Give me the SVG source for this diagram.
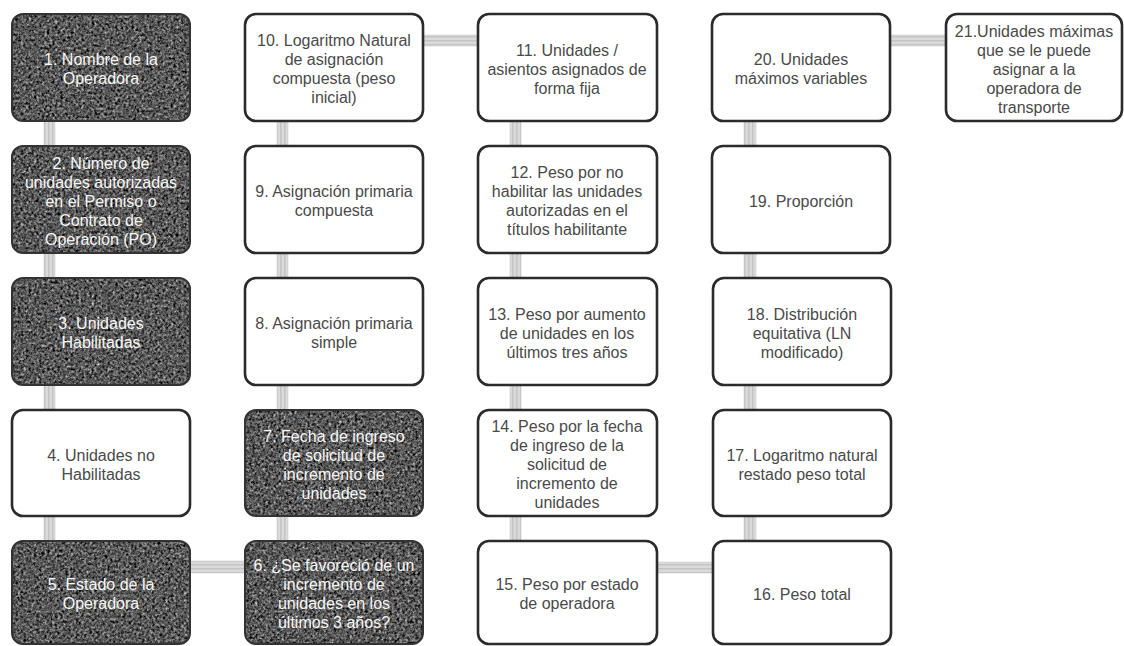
<svg xmlns="http://www.w3.org/2000/svg" width="1124" height="646" viewBox="0 0 1124 646">
<defs>
<filter id="granite" x="0" y="0" width="1" height="1" color-interpolation-filters="sRGB">
<feTurbulence type="fractalNoise" baseFrequency="0.38" numOctaves="4" seed="7" result="noise"/>
<feColorMatrix in="noise" type="matrix" values="0.6 0.6 0.6 0 -0.56  0.6 0.6 0.6 0 -0.56  0.6 0.6 0.6 0 -0.56  0 0 0 0 1" result="g"/>
<feComposite in="g" in2="SourceGraphic" operator="in"/>
</filter>
<pattern id="stripeV" width="4" height="4" patternUnits="userSpaceOnUse">
<rect width="4" height="4" fill="#dadada"/>
<rect x="0" width="1.5" height="4" fill="#c4c4c4"/>
</pattern>
<pattern id="stripeH" width="4" height="4" patternUnits="userSpaceOnUse">
<rect width="4" height="4" fill="#dadada"/>
<rect y="0" width="4" height="1.5" fill="#c4c4c4"/>
</pattern>
</defs>
<style>
.box{fill:#ffffff;stroke:#2b2b2b;stroke-width:2.6}
.dark{fill:#000000;filter:url(#granite)}
.dborder{fill:none;stroke:#333333;stroke-width:2}
text{font-family:"Liberation Sans",Arial,sans-serif;font-size:16px;text-anchor:middle}
.t{fill:#4a4a4a}
.tw{fill:#f6f6f6}
.cv{fill:url(#stripeV);stroke:#cccccc;stroke-width:0.6}
.ch{fill:url(#stripeH);stroke:#cccccc;stroke-width:0.6}
</style>
<rect width="1124" height="646" fill="#ffffff"/>

<g id="connectors">
<rect class="cv" x="44" y="121" width="11" height="25"/>
<rect class="cv" x="44" y="253" width="11" height="25"/>
<rect class="cv" x="44" y="385" width="11" height="25"/>
<rect class="cv" x="44" y="516" width="11" height="25"/>
<rect class="cv" x="277" y="121" width="11" height="25"/>
<rect class="cv" x="277" y="253" width="11" height="25"/>
<rect class="cv" x="277" y="385" width="11" height="25"/>
<rect class="cv" x="277" y="516" width="11" height="25"/>
<rect class="cv" x="510" y="121" width="11" height="25"/>
<rect class="cv" x="510" y="253" width="11" height="25"/>
<rect class="cv" x="510" y="385" width="11" height="25"/>
<rect class="cv" x="510" y="516" width="11" height="25"/>
<rect class="cv" x="744" y="121" width="12" height="25"/>
<rect class="cv" x="744" y="253" width="12" height="25"/>
<rect class="cv" x="744" y="385" width="12" height="25"/>
<rect class="cv" x="744" y="516" width="12" height="25"/>
<rect class="ch" x="423" y="35" width="55" height="11"/>
<rect class="ch" x="890" y="35" width="56" height="11"/>
<rect class="ch" x="190" y="561" width="55" height="12"/>
<rect class="ch" x="657" y="562" width="55" height="11"/>
</g>

<g id="n1">
<rect class="dark" x="12" y="14" width="178" height="107" rx="11"/>
<rect class="dborder" x="12" y="14" width="178" height="107" rx="11"/>
<text class="tw" x="101" y="65">1. Nombre de la</text>
<text class="tw" x="101" y="84">Operadora</text>
</g>
<g id="n2">
<rect class="dark" x="12" y="146" width="178" height="107" rx="11"/>
<rect class="dborder" x="12" y="146" width="178" height="107" rx="11"/>
<text class="tw" x="101" y="168.5">2. Número de</text>
<text class="tw" x="101" y="187.5">unidades autorizadas</text>
<text class="tw" x="101" y="206.5">en el Permiso o</text>
<text class="tw" x="101" y="225.5">Contrato de</text>
<text class="tw" x="101" y="244.5">Operación (PO)</text>
</g>
<g id="n3">
<rect class="dark" x="12" y="278" width="178" height="107" rx="11"/>
<rect class="dborder" x="12" y="278" width="178" height="107" rx="11"/>
<text class="tw" x="101" y="329">3. Unidades</text>
<text class="tw" x="101" y="348">Habilitadas</text>
</g>
<g id="n4">
<rect class="box" x="12" y="410" width="178" height="106" rx="11"/>
<text class="t" x="101" y="460.5">4. Unidades no</text>
<text class="t" x="101" y="479.5">Habilitadas</text>
</g>
<g id="n5">
<rect class="dark" x="12" y="541" width="178" height="103" rx="11"/>
<rect class="dborder" x="12" y="541" width="178" height="103" rx="11"/>
<text class="tw" x="101" y="590">5. Estado de la</text>
<text class="tw" x="101" y="609">Operadora</text>
</g>
<g id="n6">
<rect class="dark" x="245" y="541" width="178" height="103" rx="11"/>
<rect class="dborder" x="245" y="541" width="178" height="103" rx="11"/>
<text class="tw" x="334" y="571">6. ¿Se favoreció de un</text>
<text class="tw" x="334" y="590">incremento de</text>
<text class="tw" x="334" y="609">unidades en los</text>
<text class="tw" x="334" y="628">últimos 3 años?</text>
</g>
<g id="n7">
<rect class="dark" x="245" y="410" width="178" height="106" rx="11"/>
<rect class="dborder" x="245" y="410" width="178" height="106" rx="11"/>
<text class="tw" x="334" y="441.5">7. Fecha de ingreso</text>
<text class="tw" x="334" y="460.5">de solicitud de</text>
<text class="tw" x="334" y="479.5">incremento de</text>
<text class="tw" x="334" y="498.5">unidades</text>
</g>
<g id="n8">
<rect class="box" x="245" y="278" width="178" height="107" rx="11"/>
<text class="t" x="334" y="329">8. Asignación primaria</text>
<text class="t" x="334" y="348">simple</text>
</g>
<g id="n9">
<rect class="box" x="245" y="146" width="178" height="107" rx="11"/>
<text class="t" x="334" y="197">9. Asignación primaria</text>
<text class="t" x="334" y="216">compuesta</text>
</g>
<g id="n10">
<rect class="box" x="245" y="14" width="178" height="107" rx="11"/>
<text class="t" x="334" y="46">10. Logaritmo Natural</text>
<text class="t" x="334" y="65">de asignación</text>
<text class="t" x="334" y="84">compuesta (peso</text>
<text class="t" x="334" y="103">inicial)</text>
</g>
<g id="n11">
<rect class="box" x="478" y="14" width="179" height="107" rx="11"/>
<text class="t" x="567" y="55.5">11. Unidades /</text>
<text class="t" x="567" y="74.5">asientos asignados de</text>
<text class="t" x="567" y="93.5">forma fija</text>
</g>
<g id="n12">
<rect class="box" x="478" y="146" width="179" height="107" rx="11"/>
<text class="t" x="567" y="178">12. Peso por no</text>
<text class="t" x="567" y="197">habilitar las unidades</text>
<text class="t" x="567" y="216">autorizadas en el</text>
<text class="t" x="567" y="235">títulos habilitante</text>
</g>
<g id="n13">
<rect class="box" x="478" y="278" width="179" height="107" rx="11"/>
<text class="t" x="567" y="319.5">13. Peso por aumento</text>
<text class="t" x="567" y="338.5">de unidades en los</text>
<text class="t" x="567" y="357.5">últimos tres años</text>
</g>
<g id="n14">
<rect class="box" x="478" y="410" width="179" height="106" rx="11"/>
<text class="t" x="567" y="432">14. Peso por la fecha</text>
<text class="t" x="567" y="451">de ingreso de la</text>
<text class="t" x="567" y="470">solicitud de</text>
<text class="t" x="567" y="489">incremento de</text>
<text class="t" x="567" y="508">unidades</text>
</g>
<g id="n15">
<rect class="box" x="478" y="541" width="179" height="103" rx="11"/>
<text class="t" x="567" y="590">15. Peso por estado</text>
<text class="t" x="567" y="609">de operadora</text>
</g>
<g id="n16">
<rect class="box" x="713" y="541" width="178" height="103" rx="11"/>
<text class="t" x="802" y="599.5">16. Peso total</text>
</g>
<g id="n17">
<rect class="box" x="713" y="410" width="178" height="106" rx="11"/>
<text class="t" x="802" y="460.5">17. Logaritmo natural</text>
<text class="t" x="802" y="479.5">restado peso total</text>
</g>
<g id="n18">
<rect class="box" x="713" y="278" width="178" height="107" rx="11"/>
<text class="t" x="802" y="319.5">18. Distribución</text>
<text class="t" x="802" y="338.5">equitativa (LN</text>
<text class="t" x="802" y="357.5">modificado)</text>
</g>
<g id="n19">
<rect class="box" x="712" y="146" width="178" height="107" rx="11"/>
<text class="t" x="801" y="206.5">19. Proporción</text>
</g>
<g id="n20">
<rect class="box" x="712" y="14" width="178" height="107" rx="11"/>
<text class="t" x="801" y="65">20. Unidades</text>
<text class="t" x="801" y="84">máximos variables</text>
</g>
<g id="n21">
<rect class="box" x="946" y="14" width="176" height="107" rx="11"/>
<text class="t" x="1034" y="36.5">21.Unidades máximas</text>
<text class="t" x="1034" y="55.5">que se le puede</text>
<text class="t" x="1034" y="74.5">asignar a la</text>
<text class="t" x="1034" y="93.5">operadora de</text>
<text class="t" x="1034" y="112.5">transporte</text>
</g>
</svg>
